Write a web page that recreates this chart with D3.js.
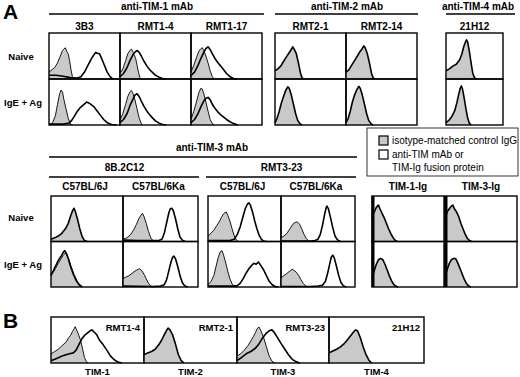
<!DOCTYPE html>
<html>
<head>
<meta charset="UTF-8">
<title>TIM staining</title>
<script src="https://cdn.jsdelivr.net/npm/d3@7.8.5/dist/d3.min.js"></script>
<style>
  body { margin: 0; background: #fff; }
  text { font-family: "Liberation Sans", Arial, Helvetica, sans-serif; }
</style>
</head>
<body>
<div id="chart"></div>
<script>
// ---- data: histograms as [fluorescence %, count % of panel] ----
const rowLabels = ["Naive", "IgE + Ag"];

const tim1Clones = ["3B3", "RMT1-4", "RMT1-17"];
const tim1Iso = [
  [[[0,15],[4,20],[8,25],[12,35],[16,50],[19,62],[21,65],[23,68],[25,60],[27,55],[29,40],[31,20],[33,5],[35,0]],
   [[0,0],[5,5],[9,20],[12,45],[15,68],[17,76],[19,72],[21,55],[24,35],[27,15],[30,3],[33,0]]],
  [[[0,12],[4,22],[8,40],[11,55],[14,62],[16,65],[18,60],[20,52],[22,45],[24,30],[26,15],[28,3],[30,0]],
   [[0,10],[4,25],[8,45],[11,62],[14,72],[16,75],[18,70],[21,55],[24,35],[27,15],[30,3],[32,0]]],
  [[[0,15],[4,30],[8,48],[11,60],[14,66],[16,68],[18,62],[21,50],[24,35],[27,18],[30,5],[33,0]],
   [[0,12],[4,30],[8,52],[11,70],[14,80],[16,78],[18,68],[21,50],[24,30],[27,12],[30,3],[33,0]]]
];
const tim1Mab = [
  [[[0,8],[10,8],[20,6],[30,3],[40,2],[45,5],[50,15],[55,30],[60,45],[63,52],[66,58],[68,56],[71,55],[74,45],[78,30],[82,15],[86,5],[90,0]],
   [[0,2],[20,2],[28,4],[32,10],[36,20],[40,30],[44,38],[48,43],[51,47],[53,50],[56,48],[59,45],[63,40],[67,32],[72,22],[77,12],[82,5],[88,1],[95,0]]],
  [[[0,5],[5,12],[10,25],[14,40],[18,52],[21,58],[24,62],[27,58],[30,50],[34,38],[38,28],[42,20],[46,14],[50,8],[55,4],[60,1],[65,0]],
   [[0,5],[5,12],[10,25],[14,42],[18,55],[21,65],[24,68],[27,62],[30,52],[34,40],[38,30],[42,22],[46,15],[50,9],[55,4],[60,1],[65,0]]],
  [[[0,8],[5,15],[10,30],[14,45],[18,58],[21,66],[24,70],[27,64],[30,55],[34,44],[38,35],[42,28],[46,20],[50,12],[55,5],[60,1],[65,0]],
   [[0,5],[5,12],[10,25],[14,40],[18,52],[21,58],[24,60],[27,55],[30,45],[34,36],[38,28],[42,22],[46,17],[50,12],[55,7],[60,3],[66,0]]]
];

const tim2Clones = ["RMT2-1", "RMT2-14"];
const tim2Iso = [
  [[[0,18],[4,22],[8,28],[12,38],[16,48],[19,55],[22,62],[25,70],[27,65],[30,55],[33,35],[36,12],[38,3],[40,0]],
   [[0,5],[3,15],[6,30],[9,48],[12,62],[15,75],[18,83],[20,80],[23,65],[26,45],[29,25],[32,10],[35,3],[38,0]]],
  [[[0,15],[4,20],[8,30],[12,40],[16,50],[19,58],[22,64],[25,72],[27,68],[30,55],[33,35],[36,12],[38,3],[40,0]],
   [[0,5],[3,14],[6,30],[9,50],[12,65],[15,76],[18,84],[20,80],[23,65],[26,45],[29,25],[32,10],[35,3],[38,0]]]
];

const tim4Clones = ["21H12"];
const tim4Iso = [
  [[[0,18],[6,22],[12,28],[18,32],[24,42],[28,55],[31,70],[34,80],[36,85],[38,80],[41,60],[44,35],[47,12],[50,3],[53,0]],
   [[0,5],[5,10],[10,18],[15,30],[19,48],[22,65],[25,80],[27,85],[29,78],[32,58],[35,35],[38,15],[41,4],[44,0]]]
];

const tim3Groups = ["8B.2C12", "RMT3-23"];
const tim3Strains = ["C57BL/6J", "C57BL/6Ka"];
const tim3Iso = [
  [[[0,5],[5,8],[10,12],[15,18],[20,28],[24,40],[27,55],[30,68],[32,73],[34,65],[37,48],[40,28],[43,12],[46,3],[50,0]],
   [[0,28],[3,32],[6,40],[10,52],[14,62],[17,70],[20,75],[22,72],[25,60],[28,45],[32,28],[36,14],[40,5],[44,0]]],
  [[[0,5],[5,8],[10,15],[14,25],[18,38],[21,50],[24,58],[26,62],[28,55],[31,40],[34,22],[37,8],[40,2],[43,0]],
   [[0,18],[4,22],[8,25],[12,30],[16,35],[19,38],[22,40],[25,36],[28,28],[31,18],[34,8],[37,2],[40,0]]],
  [[[0,12],[4,18],[8,25],[12,35],[16,45],[19,55],[22,62],[25,65],[27,58],[30,45],[33,28],[36,12],[39,3],[42,0]],
   [[0,5],[4,12],[8,25],[11,45],[14,65],[17,78],[19,80],[21,72],[24,55],[27,35],[30,18],[33,7],[36,2],[40,0]]],
  [[[0,8],[4,12],[8,18],[12,28],[16,38],[19,42],[22,43],[25,38],[28,28],[31,16],[34,7],[37,2],[40,0]],
   [[0,20],[4,25],[8,30],[12,35],[15,39],[18,36],[21,32],[24,25],[27,16],[30,8],[33,3],[36,0]]]
];
const tim3Mab = [
  [null,
   [[0,25],[3,35],[6,45],[10,58],[14,68],[17,76],[19,80],[21,75],[24,62],[27,46],[31,28],[35,14],[39,5],[43,0]]],
  [[[0,3],[20,2],[40,2],[48,2],[52,5],[55,18],[58,40],[61,62],[63,72],[65,73],[67,68],[70,50],[73,28],[76,10],[79,3],[83,0]],
   [[0,2],[40,1],[50,2],[55,5],[58,15],[61,35],[64,55],[66,65],[68,68],[70,62],[73,45],[76,25],[79,10],[82,3],[86,0]]],
  [[[0,2],[30,2],[36,5],[40,15],[44,32],[48,55],[51,72],[54,82],[56,85],[58,80],[61,65],[64,45],[67,28],[70,14],[73,5],[76,1],[80,0]],
   [[0,2],[35,2],[40,3],[44,8],[48,18],[52,30],[56,40],[60,48],[63,52],[66,50],[69,55],[72,48],[76,38],[80,25],[84,12],[88,5],[92,1],[96,0]]],
  [[[0,1],[40,1],[46,2],[50,5],[53,15],[56,35],[59,60],[61,74],[62,78],[64,72],[67,52],[70,30],[73,12],[76,4],[80,0]],
   [[0,1],[40,1],[50,2],[56,4],[60,12],[63,30],[66,52],[68,66],[70,70],[72,64],[75,45],[78,25],[81,10],[84,3],[88,0]]]
];

const igProteins = ["TIM-1-Ig", "TIM-3-Ig"];
const igIso = [
  [[[0,50],[2,62],[4,68],[6,75],[9,80],[11,72],[14,62],[17,52],[20,40],[23,28],[26,18],[29,9],[32,3],[35,0]],
   [[0,20],[3,35],[6,50],[9,60],[12,63],[15,60],[18,50],[21,38],[24,25],[27,14],[30,6],[33,2],[36,0]]],
  [[[0,50],[3,65],[6,72],[9,78],[11,80],[13,72],[16,65],[19,55],[22,40],[25,28],[28,16],[31,7],[34,2],[37,0]],
   [[0,25],[3,38],[6,52],[9,60],[12,63],[15,62],[18,52],[21,40],[24,28],[27,16],[30,7],[33,2],[36,0]]]
];

const bTargets = ["TIM-1", "TIM-2", "TIM-3", "TIM-4"];
const bClones = ["RMT1-4", "RMT2-1", "RMT3-23", "21H12"];
const bIso = [
  [[0,20],[4,25],[8,30],[12,38],[16,45],[19,55],[21,60],[23,68],[25,75],[26,79],[28,70],[30,60],[32,48],[34,30],[36,12],[38,3],[40,0]],
  [[0,18],[4,22],[8,25],[12,30],[16,40],[19,50],[22,62],[24,70],[26,76],[28,72],[31,60],[34,40],[37,18],[40,5],[43,0]],
  [[0,15],[4,20],[8,28],[12,38],[15,48],[18,58],[20,66],[22,75],[24,78],[26,70],[29,55],[32,35],[35,15],[38,4],[41,0]],
  [[0,22],[4,26],[8,30],[12,35],[16,42],[20,52],[23,60],[26,68],[28,72],[30,70],[33,55],[36,35],[39,18],[42,6],[45,0]]
];
const bMab = [
  [[0,5],[6,10],[12,15],[16,18],[20,20],[24,22],[27,28],[30,40],[33,52],[36,60],[39,65],[42,70],[44,72],[46,68],[49,62],[52,50],[56,40],[60,28],[64,15],[68,7],[72,2],[76,0]],
  null,
  [[0,5],[5,12],[10,20],[15,25],[20,32],[24,42],[28,55],[32,65],[35,70],[38,72],[41,65],[44,55],[48,42],[52,30],[56,18],[60,8],[64,3],[68,0]],
  null
];

const legendItems = [
  {fill: "#c9c9c9", lines: ["isotype-matched control IgG"]},
  {fill: "#fff", lines: ["anti-TIM mAb or", "TIM-Ig fusion protein"]}
];

// ---- drawing ----
const width = 520, height = 377;
const svg = d3.select("#chart").append("svg")
  .attr("width", width).attr("height", height);

const GRAY = "#c9c9c9";
const FS = 10;

function label(x, y, txt, size, weight, anchor) {
  svg.append("text").attr("x", x).attr("y", y)
    .attr("text-anchor", anchor || "middle")
    .attr("font-size", size).attr("font-weight", weight || "bold")
    .text(txt);
}
function rule(x1, x2, y) {
  svg.append("line").attr("x1", x1).attr("x2", x2).attr("y1", y).attr("y2", y)
    .attr("stroke", "#000").attr("stroke-width", 1.3);
}

function panel(x0, y0, w, h, iso, mab, thickLeft) {
  const xs = d3.scaleLinear().domain([0, 100]).range([x0, x0 + w]);
  const ys = d3.scaleLinear().domain([0, 100]).range([y0 + h, y0]);
  const area = d3.area().x(d => xs(d[0])).y0(ys(0)).y1(d => ys(d[1]));
  const line = d3.line().x(d => xs(d[0])).y(d => ys(d[1]));
  svg.append("path").attr("d", area(iso)).attr("fill", GRAY);
  svg.append("path").attr("d", line(iso)).attr("fill", "none")
    .attr("stroke", "#000").attr("stroke-width", mab ? 0.9 : 1.6)
    .attr("stroke-linejoin", "round");
  if (mab) {
    svg.append("path").attr("d", line(mab)).attr("fill", "none")
      .attr("stroke", "#000").attr("stroke-width", 1.6)
      .attr("stroke-linejoin", "round");
  }
  svg.append("rect").attr("x", x0).attr("y", y0).attr("width", w).attr("height", h)
    .attr("fill", "none").attr("stroke", "#000").attr("stroke-width", 1.4);
  if (thickLeft) {
    svg.append("line").attr("x1", x0 + 1).attr("x2", x0 + 1).attr("y1", y0).attr("y2", y0 + h)
      .attr("stroke", "#000").attr("stroke-width", 3);
  }
}

// Panel letter A
label(3, 19, "A", 21, "bold", "start");

// --- top block ---
const topY = 33, topH = 46;
rule(49, 264, 14); label(157, 10, "anti-TIM-1 mAb", FS);
rule(275, 418, 14); label(347, 10, "anti-TIM-2 mAb", FS);
rule(446, 515, 14); label(478, 10, "anti-TIM-4 mAb", FS);

const tim1X = [49, 120, 191], colW = 71;
const tim2X = [275, 346];
const tim4X = [446], tim4W = 57;

tim1Clones.forEach((c, i) => {
  label(tim1X[i] + colW / 2, 30, c, FS);
  rowLabels.forEach((r, j) => panel(tim1X[i], topY + j * topH, colW, topH, tim1Iso[i][j], tim1Mab[i][j]));
});
tim2Clones.forEach((c, i) => {
  label(tim2X[i] + colW / 2, 30, c, FS);
  rowLabels.forEach((r, j) => panel(tim2X[i], topY + j * topH, colW, topH, tim2Iso[i][j], null));
});
tim4Clones.forEach((c, i) => {
  label(tim4X[i] + tim4W / 2, 30, c, FS);
  rowLabels.forEach((r, j) => panel(tim4X[i], topY + j * topH, tim4W, topH, tim4Iso[i][j], null));
});
label(21, 60, rowLabels[0], 9.5);
label(23, 106, rowLabels[1], 9.5);

// --- legend ---
svg.append("rect").attr("x", 367).attr("y", 128).attr("width", 151).attr("height", 48)
  .attr("fill", "#fff").attr("stroke", "#000").attr("stroke-width", 0.8);
legendItems.forEach((d, i) => {
  const sy = 136 + i * 14;
  svg.append("rect").attr("x", 379).attr("y", sy).attr("width", 9).attr("height", 9)
    .attr("fill", d.fill).attr("stroke", "#000").attr("stroke-width", 1.2);
  d.lines.forEach((t, k) => label(392, sy + 8 + k * 12.5, t, 10, "normal", "start"));
});

// --- middle block (TIM-3) ---
const midY = 196, midH = 45.5;
label(212, 151, "anti-TIM-3 mAb", FS);
rule(49, 357, 157);
const grpX = [[51, 123], [208, 281]];
const midW = [72, 75, 73, 74];
tim3Groups.forEach((g, gi) => {
  const gx0 = grpX[gi][0], gx1 = grpX[gi][1] + midW[gi * 2 + 1];
  label((gx0 + gx1) / 2, 171, g, FS);
  rule(gx0 - 2, gx1 + 1, 177);
  tim3Strains.forEach((s, si) => {
    const k = gi * 2 + si;
    const x0 = grpX[gi][si];
    label(x0 + midW[k] / 2 - 2, 190, s, FS);
    rowLabels.forEach((r, j) => panel(x0, midY + j * midH, midW[k], midH, tim3Iso[k][j], tim3Mab[k][j]));
  });
});
const igX = [372, 445], igW = 72;
igProteins.forEach((p, i) => {
  label(igX[i] + igW / 2, 190, p, FS);
  rowLabels.forEach((r, j) => panel(igX[i], midY + j * midH, igW, midH, igIso[i][j], null, true));
});
label(21, 221, rowLabels[0], 9.5);
label(23, 268, rowLabels[1], 9.5);

// --- block B ---
label(3, 328, "B", 21, "bold", "start");
const bX = [51, 144, 237, 329], bW = [93, 93, 92, 95];
const bY = 317, bH = 46;
bTargets.forEach((t, i) => {
  panel(bX[i], bY, bW[i], bH, bIso[i], bMab[i]);
  label(bX[i] + bW[i] - 4, 331, bClones[i], 9.5, "bold", "end");
  label(bX[i] + bW[i] / 2, 375, t, 9.5);
});
</script>
</body>
</html>
